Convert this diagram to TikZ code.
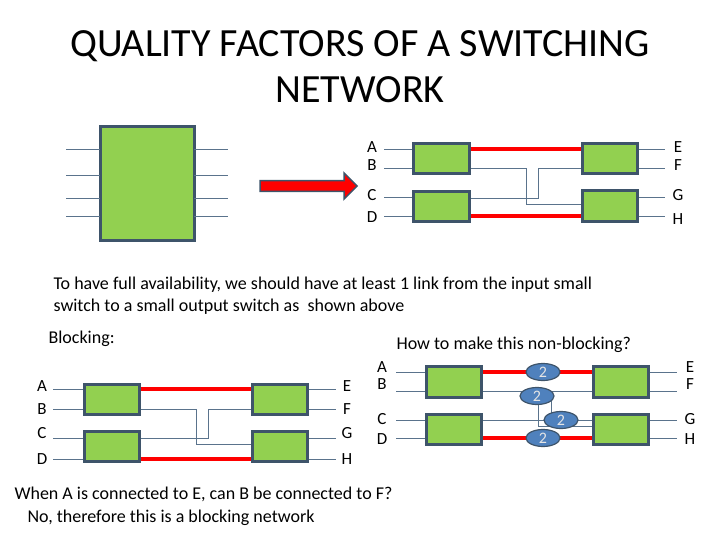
\documentclass[tikz,border=0pt]{standalone}
\usepackage{fontspec}
\setmainfont{Carlito}
\usetikzlibrary{shapes.geometric,shapes.arrows,arrows.meta}
\definecolor{gr}{RGB}{146,208,80}
\definecolor{bd}{RGB}{62,84,106}
\definecolor{ln}{RGB}{90,115,140}
\definecolor{el}{RGB}{79,129,189}
\begin{document}
\begin{tikzpicture}[x=1pt,y=-1pt,
  box/.style={draw=bd,line width=3pt,fill=gr},
  wire/.style={draw=ln,line width=0.8pt},
  red/.style={draw=red,line width=3.5pt},
  lab/.style={font=\fontsize{17}{17}\selectfont},
  txt/.style={font=\fontsize{18}{22}\selectfont,anchor=west},
  two/.style={ellipse,draw=bd,fill=el,line width=1.2pt,minimum width=34pt,minimum height=17pt,inner sep=0pt,font=\fontsize{16}{16}\selectfont\color{white!80!gray}}]
\useasboundingbox (0,0) rectangle (720,540);
\node[font=\fontsize{40}{46}\selectfont,align=center] (title) at (360,67) {QUALITY FACTORS OF A SWITCHING\\NETWORK};
% big box
\draw[box] (100,127) rectangle (194,240);
\foreach \y in {149,175,198,216}{\draw[wire] (66,\y)--(100,\y); \draw[wire] (194,\y)--(228,\y);}
\node[single arrow,draw=bd,fill=red,line width=1.5pt,minimum width=26pt,single arrow head extend=4pt,minimum height=97pt,inner sep=2pt] (arr) at (306,186) {};
% top right
\foreach \y/\l/\r in {149/A/E,168/B/F,197/C/G,216/D/H}{
  \draw[wire] (384,\y)--(413,\y); \draw[wire] (637,\y)--(665,\y);}
\foreach \y/\l in {147/A,165/B,195/C,217/D}{\node[lab] at (372,\y) {\l};}
\foreach \y/\l in {147/E,165/F,195/G,219/H}{\node[lab] at (678,\y) {\l};}
\draw[red] (469,149)--(582,149); \draw[red] (469,216)--(582,216);
\draw[wire] (469,168)--(526,168)--(526,204)--(582,204);
\draw[wire] (469,198)--(538,198)--(538,168)--(582,168);
\draw[box] (413,144) rectangle (469,174);
\draw[box] (413,192) rectangle (469,222);
\draw[box] (582,144) rectangle (637,174);
\draw[box] (582,191) rectangle (637,222);
\node[txt,align=left] (t1) at (50,296) {To have full availability, we should have at least 1 link from the input small\\switch to a small output switch as\ \ shown above};
\node[txt] (blk) at (45,339) {Blocking:};
\node[txt] (how) at (393,345) {How to make this non-blocking?};
% bottom left
\foreach \y in {389,409,438,459}{
  \draw[wire] (53,\y)--(84,\y); \draw[wire] (307,\y)--(336,\y);}
\foreach \y/\l/\r in {386/A/E,409/B/F,433/C/G,459/D/H}{
  \node[lab] at (42,\y) {\l}; \node[lab] at (347,\y) {\r};}
\draw[red] (139,389)--(252,389); \draw[red] (139,459)--(252,459);
\draw[wire] (139,409)--(196,409)--(196,444)--(252,444);
\draw[wire] (139,438)--(208,438)--(208,409)--(252,409);
\draw[box] (84,384) rectangle (139,414);
\draw[box] (84,431) rectangle (139,461);
\draw[box] (252,384) rectangle (307,414);
\draw[box] (252,431) rectangle (307,461);
% bottom right
\foreach \y in {372,391,420,438}{
  \draw[wire] (396,\y)--(426,\y); \draw[wire] (648,\y)--(677,\y);}
\foreach \y/\l in {367/A,384/B,419/C,439/D}{\node[lab] at (382,\y) {\l};}
\foreach \y/\l in {367/E,384/F,419/G,439/H}{\node[lab] at (690,\y) {\l};}
\draw[red] (481,372)--(593,372); \draw[red] (481,438)--(593,438);
\draw[wire] (481,391)--(593,391);
\draw[wire] (538,396)--(538,426)--(593,426);
\draw[wire] (551,396)--(551,420);
\draw[wire] (481,420)--(593,420);
\draw[box] (426,366) rectangle (481,397);
\draw[box] (426,414) rectangle (481,444);
\draw[box] (593,366) rectangle (648,397);
\draw[box] (593,414) rectangle (648,444);
\node[two] (e1) at (543,372) {2};
\node[two] (e2) at (537,396) {2};
\node[two] (e3) at (561,420) {2};
\node[two] (e4) at (543,438) {2};
\node[txt] (q) at (11,494) {When A is connected to E, can B be connected to F?};
\node[txt] (a) at (24,518) {No, therefore this is a blocking network};
\end{tikzpicture}
\end{document}
